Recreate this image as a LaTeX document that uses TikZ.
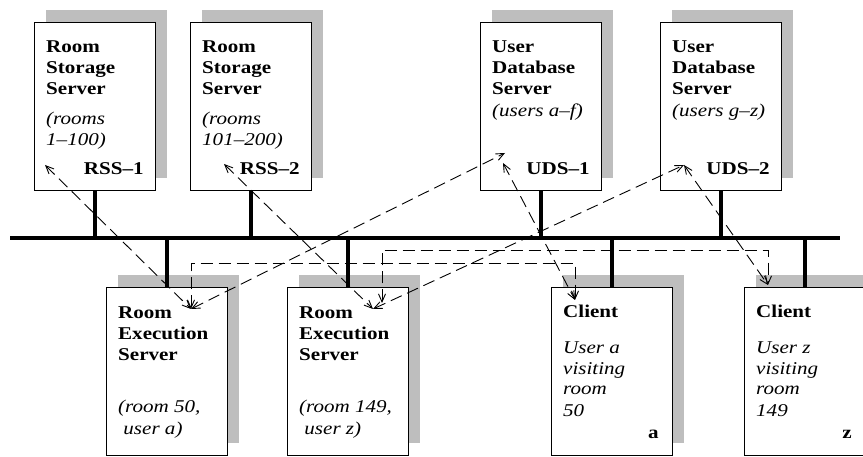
\documentclass[tikz,border=0pt]{standalone}
\usepackage{fontspec}
\setmainfont{Liberation Serif}[FakeStretch=1.17]
\usetikzlibrary{arrows.meta,calc,shadows}

\definecolor{shade}{gray}{0.745}

\tikzset{
  srv/.style={draw, fill=white, line width=.8pt, inner sep=0pt,
    minimum width=121pt, minimum height=168pt, anchor=north west,
    drop shadow={shadow xshift=12pt, shadow yshift=12pt, fill=shade, opacity=1}},
  % base of a multi-line node is its last line
  ttl/.style={font=\fontsize{18}{21}\selectfont\bfseries, align=left,
    anchor=base west, inner sep=0pt},
  dsc/.style={font=\fontsize{18}{21}\selectfont\itshape, align=left,
    anchor=base west, inner sep=0pt},
  lbl/.style={font=\fontsize{18}{21}\selectfont\bfseries, anchor=base east, inner sep=0pt},
  bus/.style={line width=4pt},
  msg/.style={<->, line width=.9pt, dash pattern=on 12pt off 6pt},
}

\begin{document}
\begin{tikzpicture}[x=1pt,y=-1pt,>={Straight Barb[length=8pt,width=7pt]}]
  \useasboundingbox (0,0) rectangle (863,457);

  % servers and clients
  \foreach \n/\x/\y in {rss1/34/22,rss2/190/22,uds1/480/22,uds2/660/22,
                        res1/106/287,res2/287/287,cla/551/287,clz/744/287}
    \node[srv] (\n) at (\x,\y) {};

  % the network
  \coordinate (busL) at (10,238);
  \coordinate (busR) at (840,238);
  \draw[bus] (busL) -- (busR);
  \foreach \n in {rss1,rss2,uds1,uds2}
    \draw[bus] (\n.south) -- (\n.south |- busL);
  \foreach \n in {res1,res2,cla,clz}
    \draw[bus] (\n.north) -- (\n.north |- busL);

  % texts
  \node[ttl] (rss1t) at ($(rss1.north west)+(12,73)$) {Room\\Storage\\Server};
  \node[dsc] (rss1d) at ($(rss1.north west)+(12,124)$) {(rooms\\1--100)};
  \node[lbl] (rss1l) at ($(rss1.north east)+(-12,153)$) {RSS--1};

  \node[ttl] (rss2t) at ($(rss2.north west)+(12,73)$) {Room\\Storage\\Server};
  \node[dsc] (rss2d) at ($(rss2.north west)+(12,124)$) {(rooms\\101--200)};
  \node[lbl] (rss2l) at ($(rss2.north east)+(-12,153)$) {RSS--2};

  \node[ttl] (uds1t) at ($(uds1.north west)+(12,73)$) {User\\Database\\Server};
  \node[dsc] (uds1d) at ($(uds1.north west)+(12,95)$) {(users a--f)};
  \node[lbl] (uds1l) at ($(uds1.north east)+(-12,153)$) {UDS--1};

  \node[ttl] (uds2t) at ($(uds2.north west)+(12,73)$) {User\\Database\\Server};
  \node[dsc] (uds2d) at ($(uds2.north west)+(12,95)$) {(users g--z)};
  \node[lbl] (uds2l) at ($(uds2.north east)+(-12,153)$) {UDS--2};

  \node[ttl] (res1t) at ($(res1.north west)+(12,73)$) {Room\\Execution\\Server};
  \node[dsc] (res1d) at ($(res1.north west)+(12,147)$) {(room 50,\\\ user a)};

  \node[ttl] (res2t) at ($(res2.north west)+(12,73)$) {Room\\Execution\\Server};
  \node[dsc] (res2d) at ($(res2.north west)+(12,147)$) {(room 149,\\\ user z)};

  \node[ttl] (clat) at ($(cla.north west)+(12,31)$) {Client};
  \node[dsc] (clad) at ($(cla.north west)+(12,129)$) {User a\\visiting\\room\\50};
  \node[lbl] (clal) at ($(cla.north east)+(-14,151)$) {a};

  \node[ttl] (clzt) at ($(clz.north west)+(12,31)$) {Client};
  \node[dsc] (clzd) at ($(clz.north west)+(12,129)$) {User z\\visiting\\room\\149};
  \node[lbl] (clzl) at ($(clz.north east)+(-14,151)$) {z};

  % message paths
  \coordinate (rss1p) at (45,165);
  \coordinate (rss2p) at (224,164);
  \coordinate (uds1p) at (505,153);
  \coordinate (uds1q) at (503,163);
  \coordinate (uds2p) at (684,165);
  \coordinate (res1p) at (191,309);
  \coordinate (res2p) at (373,309);
  \coordinate (res2q) at (382,303);
  \coordinate (clap) at (575,300);
  \coordinate (clzp) at (768,285);
  \coordinate (laneA) at (0,263);
  \coordinate (laneB) at (0,250);

  \draw[msg] (rss1p) -- (res1p);
  \draw[msg] (rss2p) -- (res2p);
  \draw[msg] (res1p) -- (uds1p);
  \draw[msg] (res2p) -- (uds2p);
  \draw[msg] (uds1q) -- (clap);
  \draw[msg] (uds2p) -- (clzp);
  \draw[msg] (res1p) -- (res1p |- laneA) -| (clap);
  \draw[msg] (res2q) -- (res2q |- laneB) -| (clzp);
\end{tikzpicture}
\end{document}
